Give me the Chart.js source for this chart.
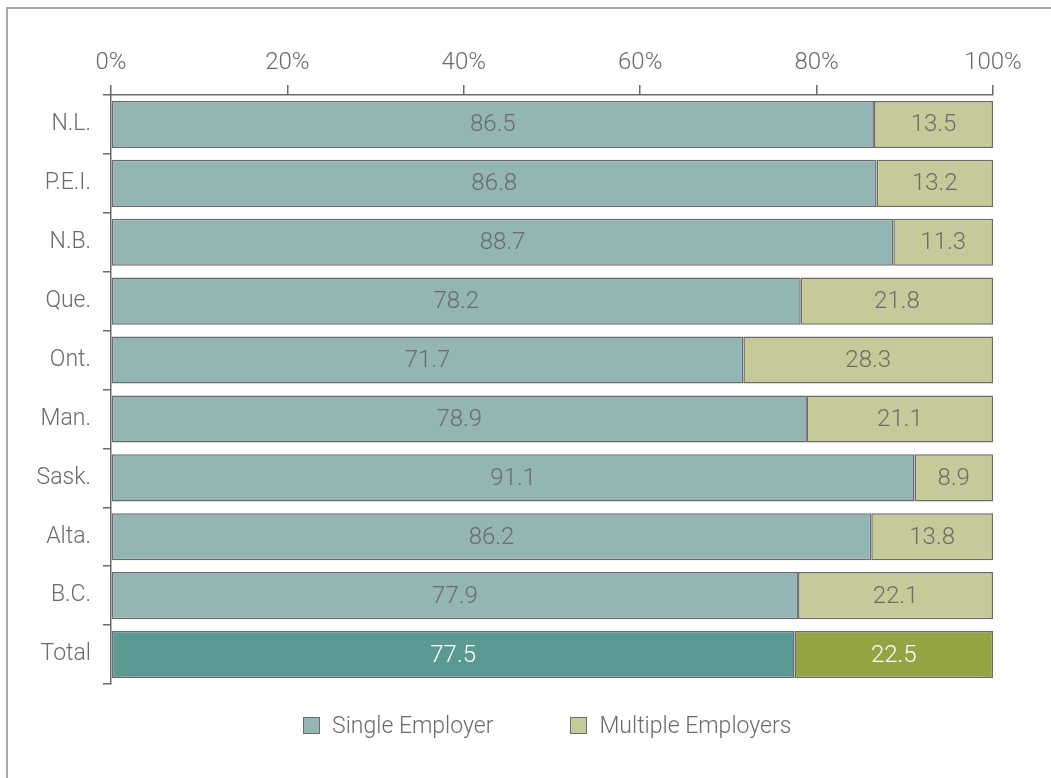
<!DOCTYPE html>
<html>
<head>
<meta charset="utf-8">
<script src="https://cdn.jsdelivr.net/npm/chart.js@4.4.1/dist/chart.umd.min.js"></script>
<style>
  html, body { margin: 0; padding: 0; background: #fff; }
  #wrap { position: relative; width: 1051px; height: 778px; overflow: hidden; }
  #frame { position: absolute; left: 6px; top: 7px; right: -10px; bottom: -10px;
           border-top: 2px solid #a9a9a9; border-left: 2px solid #a9a9a9; }
  #chart { position: absolute; left: 0; top: 0; }
  #legend { position: absolute; left: 303px; top: 710px; display: flex; align-items: center;
            font-family: Roboto, "DejaVu Sans Condensed", sans-serif; font-weight: 300;
            font-size: 23px; color: #6b6b6b; height: 30px; }
  .item { display: flex; align-items: center; }
  .item + .item { margin-left: 77px; }
  .box { width: 15px; height: 15px; border: 1.5px solid #6b6b6b; margin-right: 12px; }
</style>
</head>
<body>
<div id="wrap">
  <div id="frame"></div>
  <canvas id="chart" width="1051" height="778"></canvas>
  <div id="legend"></div>
</div>
<script>
const provinces = ["N.L.", "P.E.I.", "N.B.", "Que.", "Ont.", "Man.", "Sask.", "Alta.", "B.C.", "Total"];
const singleEmployer = [86.5, 86.8, 88.7, 78.2, 71.7, 78.9, 91.1, 86.2, 77.9, 77.5];
const multipleEmployers = [13.5, 13.2, 11.3, 21.8, 28.3, 21.1, 8.9, 13.8, 22.1, 22.5];
const seriesNames = ["Single Employer", "Multiple Employers"];

const fontFamily = 'Roboto, "DejaVu Sans Condensed", sans-serif';
const textColor = "#6b6b6b";
const edgeColor = "#6b6b6b";

const singleColor = "#93b6b5";
const singleTotalColor = "#5b9995";
const multipleColor = "#c6ca98";
const multipleTotalColor = "#93a443";

function colorsFor(normal, total) {
  return provinces.map((p) => (p === "Total" ? total : normal));
}

// value text in the middle of each bar segment
const barLabels = {
  id: "barLabels",
  afterDatasetsDraw(chart) {
    const ctx = chart.ctx;
    ctx.save();
    ctx.font = `300 24px ${fontFamily}`;
    ctx.textAlign = "center";
    ctx.textBaseline = "middle";
    chart.data.datasets.forEach((ds, di) => {
      chart.getDatasetMeta(di).data.forEach((bar, i) => {
        ctx.fillStyle = provinces[i] === "Total" ? "#ffffff" : textColor;
        ctx.fillText(ds.data[i].toFixed(1), (bar.x + bar.base) / 2, bar.y + 1);
      });
    });
    ctx.restore();
  },
};

new Chart(document.getElementById("chart"), {
  type: "bar",
  data: {
    labels: provinces,
    datasets: [
      {
        label: seriesNames[0],
        data: singleEmployer,
        backgroundColor: colorsFor(singleColor, singleTotalColor),
        borderColor: edgeColor,
        borderWidth: 1.5,
        borderSkipped: false,
      },
      {
        label: seriesNames[1],
        data: multipleEmployers,
        backgroundColor: colorsFor(multipleColor, multipleTotalColor),
        borderColor: edgeColor,
        borderWidth: 1.5,
        borderSkipped: false,
      },
    ],
  },
  options: {
    indexAxis: "y",
    responsive: false,
    animation: false,
    categoryPercentage: 1,
    barPercentage: 0.8,
    layout: { padding: { top: 0, left: 0, right: 58, bottom: 94 } },
    plugins: {
      legend: { display: false },
      tooltip: { enabled: false },
    },
    scales: {
      x: {
        position: "top",
        stacked: true,
        min: 0,
        max: 100,
        ticks: {
          stepSize: 20,
          color: textColor,
          font: { family: fontFamily, size: 24, weight: "300" },
          padding: 8,
          callback: (v) => `${v}%`,
        },
        grid: { drawOnChartArea: false, drawTicks: true, tickLength: 10, color: edgeColor, lineWidth: 1.5 },
        border: { color: edgeColor, width: 1.5 },
        afterFit(scale) { scale.height = 95; },
      },
      y: {
        stacked: true,
        ticks: {
          color: textColor,
          font: { family: fontFamily, size: 23, weight: "300" },
          padding: 12,
        },
        grid: { offset: true, drawOnChartArea: false, drawTicks: true, tickLength: 8, color: edgeColor, lineWidth: 1.5 },
        border: { color: edgeColor, width: 1.5 },
        afterFit(scale) { scale.width = 111; },
      },
    },
  },
  plugins: [barLabels],
});

const legendEl = document.getElementById("legend");
[[seriesNames[0], singleColor], [seriesNames[1], multipleColor]].forEach(([name, color]) => {
  const item = document.createElement("div");
  item.className = "item";
  item.innerHTML = `<span class="box" style="background:${color}"></span><span>${name}</span>`;
  legendEl.appendChild(item);
});
</script>
</body>
</html>
